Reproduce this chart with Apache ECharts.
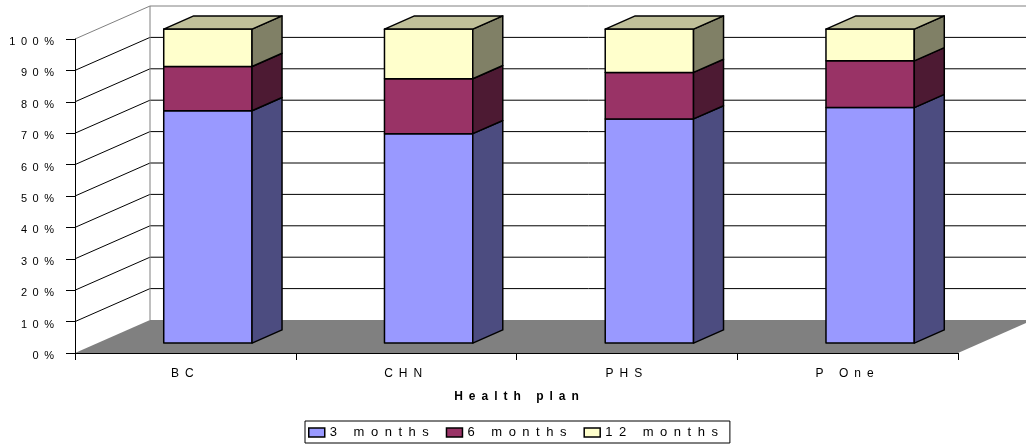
<!DOCTYPE html>
<html>
<head>
<meta charset="utf-8">
<script src="https://cdn.jsdelivr.net/npm/echarts@6/dist/echarts.min.js"></script>
<style>
  html, body { margin: 0; padding: 0; background: #fff; }
  #chart { width: 1026px; height: 447px; }
</style>
</head>
<body>
<div id="chart"></div>
<script>
// Share of members per follow-up period, by health plan (100% stacked)
const categories = ['BC', 'CHN', 'PHS', 'P One'];
const seriesNames = ['3 months', '6 months', '12 months'];
const threeMonths = [74.0, 66.7, 71.4, 75.0];
const sixMonths = [14.1, 17.5, 14.8, 14.9];
const twelveMonths = [11.9, 15.8, 13.8, 10.1];
const yTickValues = [0, 10, 20, 30, 40, 50, 60, 70, 80, 90, 100];
const yTickLabels = ['0%', '10%', '20%', '30%', '40%', '50%', '60%', '70%', '80%', '90%', '100%'];
const axisTitle = 'Health plan';

// Face colours of each stacked block: front, right side, top
const palette = [
  { front: '#9999FF', side: '#4C4C80', top: '#7373BF' },
  { front: '#993366', side: '#4D1A33', top: '#73264D' },
  { front: '#FFFFCC', side: '#808066', top: '#BFBF99' }
];

// Oblique projection of the chart depth (pixels from the front plane to the back wall)
const DEPTH = [75, -33];
const BAR_FRONT = 0.3;     // bar front face, as a fraction of the depth
const BAR_BACK = 0.7;      // bar back face
const BAR_FRACTION = 0.4;  // bar width relative to the category band
const FONT = '"Liberation Sans", Arial, sans-serif';
const SPACER = '\u2002';
const spaced = s => Array.from(s).join(SPACER);

const values = [threeMonths, sixMonths, twelveMonths];
const bases = values.map((arr, si) =>
  arr.map((_, ci) => {
    let b = 0;
    for (let k = 0; k < si; k++) b += values[k][ci];
    return b;
  })
);

// Floor, back wall and side wall with their gridlines
function wallRenderer(params, api) {
  const cs = params.coordSys;
  const x0 = cs.x, x1 = cs.x + cs.width;
  const v = api.value(0);
  const y = api.coord([0, v])[1];
  const DX = DEPTH[0], DY = DEPTH[1];
  if (v === 0) {
    return {
      type: 'polygon', silent: true,
      shape: { points: [[x0, y], [x1, y], [x1 + DX, y + DY], [x0 + DX, y + DY]] },
      style: { fill: '#808080' }
    };
  }
  const col = v === 100 ? '#808080' : '#000000';
  const children = [
    { type: 'line', shape: { x1: x0, y1: y, x2: x0 + DX, y2: y + DY }, style: { stroke: col, lineWidth: 1 } },
    { type: 'line', shape: { x1: x0 + DX, y1: y + DY, x2: x1 + DX, y2: y + DY }, style: { stroke: col, lineWidth: 1 } }
  ];
  if (v === 100) {
    const yb = api.coord([0, 0])[1];
    children.push({ type: 'line', shape: { x1: x0 + DX, y1: y + DY, x2: x0 + DX, y2: yb + DY }, style: { stroke: col, lineWidth: 1 } });
  }
  return { type: 'group', silent: true, children };
}

// One stacked block of a 3D bar
function barRenderer(si) {
  const c = palette[si];
  const isTop = si === values.length - 1;
  return function (params, api) {
    const ci = api.value(0);
    const base = api.value(2);
    const top = base + api.value(1);
    const bw = api.size([1, 0])[0] * BAR_FRACTION;
    const p0 = api.coord([ci, base]);
    const p1 = api.coord([ci, top]);
    const fx = DEPTH[0] * BAR_FRONT, fy = DEPTH[1] * BAR_FRONT;
    const dx = DEPTH[0] * (BAR_BACK - BAR_FRONT), dy = DEPTH[1] * (BAR_BACK - BAR_FRONT);
    const L = p0[0] - bw / 2 + fx, R = p0[0] + bw / 2 + fx;
    const yb = p0[1] + fy, yt = p1[1] + fy;
    const edge = { stroke: '#000', lineWidth: 1.5, lineJoin: 'round' };
    const children = [
      { type: 'polygon', shape: { points: [[L, yb], [R, yb], [R, yt], [L, yt]] }, style: Object.assign({ fill: c.front }, edge) },
      { type: 'polygon', shape: { points: [[R, yb], [R + dx, yb + dy], [R + dx, yt + dy], [R, yt]] }, style: Object.assign({ fill: c.side }, edge) }
    ];
    if (isTop) {
      children.push({ type: 'polygon', shape: { points: [[L, yt], [R, yt], [R + dx, yt + dy], [L + dx, yt + dy]] }, style: Object.assign({ fill: c.top }, edge) });
    }
    return { type: 'group', children };
  };
}

const chart = echarts.init(document.getElementById('chart'), null, { renderer: 'canvas' });

const series = [{
  type: 'custom',
  name: 'walls',
  z: -1,
  clip: false,
  silent: true,
  renderItem: wallRenderer,
  data: yTickValues.map(v => [v]),
  encode: { y: 0 }
}];

seriesNames.forEach((name, si) => {
  series.push({
    type: 'custom',
    name: name,
    clip: false,
    renderItem: barRenderer(si),
    itemStyle: { color: palette[si].front },
    data: values[si].map((v, ci) => [ci, v, bases[si][ci]]),
    encode: { x: 0, y: 1 }
  });
});

chart.setOption({
  animation: false,
  backgroundColor: '#ffffff',
  grid: { left: 75, right: 68, top: 39, bottom: 94, containLabel: false, outerBoundsMode: 'none' },
  xAxis: {
    type: 'category',
    data: categories,
    boundaryGap: true,
    axisLine: { show: true, lineStyle: { color: '#000', width: 1 } },
    axisTick: { show: true, length: 7, alignWithLabel: false, lineStyle: { color: '#000' } },
    axisLabel: { margin: 15, fontSize: 12, color: '#000', fontFamily: FONT, padding: [0, 6, 0, 0], formatter: s => spaced(s) },
    splitLine: { show: false },
    name: spaced(axisTitle),
    nameLocation: 'middle',
    nameGap: 38,
    nameTextStyle: { fontWeight: 'bold', fontSize: 12, color: '#000', fontFamily: FONT }
  },
  yAxis: {
    type: 'value',
    min: 0,
    max: 100,
    interval: 10,
    axisLine: { show: true, lineStyle: { color: '#000', width: 1 } },
    axisTick: { show: true, length: 9, lineStyle: { color: '#000' } },
    splitLine: { show: false },
    axisLabel: {
      margin: 21, fontSize: 11, color: '#000', fontFamily: FONT,
      verticalAlign: 'top', lineHeight: 6,
      formatter: v => spaced(yTickLabels[yTickValues.indexOf(v)])
    }
  },
  legend: {
    data: seriesNames.map((n, i) => ({
      name: n,
      icon: 'rect',
      itemStyle: { color: palette[i].front, borderColor: '#000', borderWidth: 1.5 }
    })),
    left: 305,
    top: 421,
    orient: 'horizontal',
    itemWidth: 16,
    itemHeight: 9,
    itemGap: 17,
    borderColor: '#000',
    borderWidth: 1,
    borderRadius: 0,
    padding: [5, 12, 4, 3],
    selectedMode: false,
    textStyle: { fontSize: 13, color: '#000', fontFamily: FONT },
    formatter: n => spaced(n)
  },
  series: series
});
</script>
</body>
</html>
